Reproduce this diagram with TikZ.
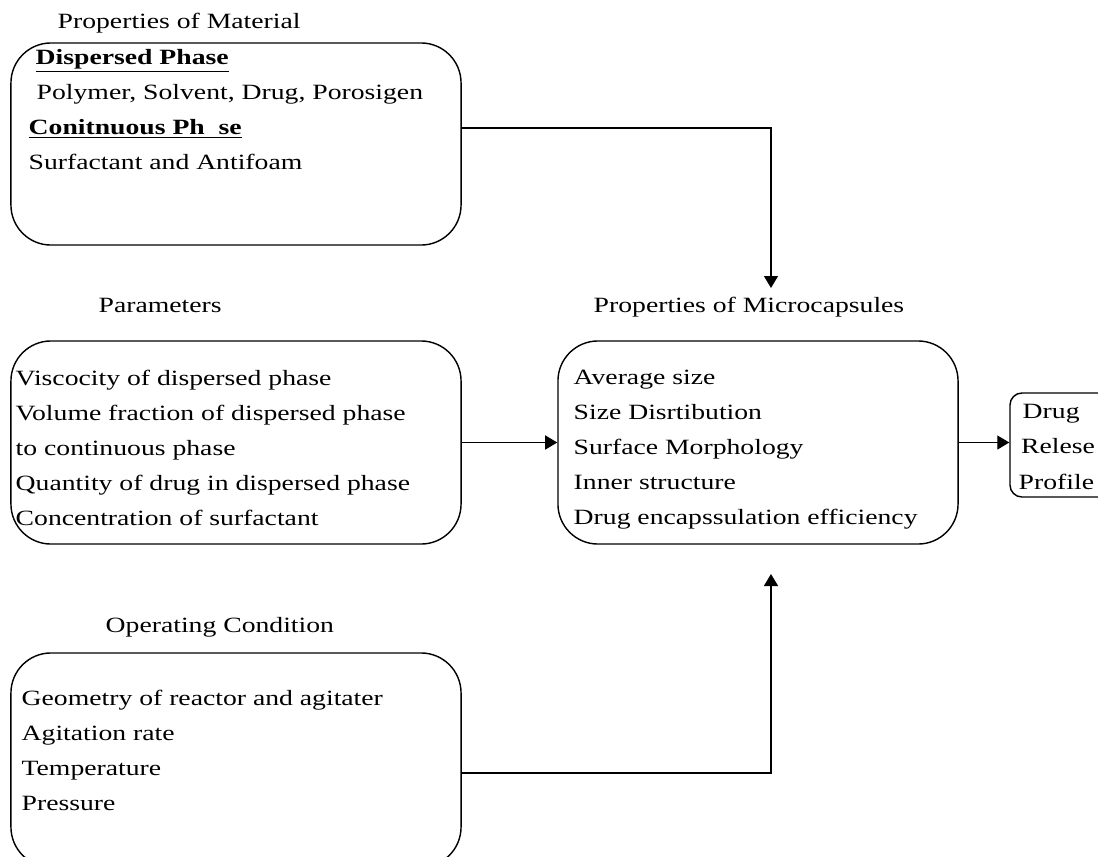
\documentclass[tikz,border=0pt]{standalone}
\usepackage{fontspec}
\setmainfont{Liberation Serif}[FakeStretch=1.27]
\usepackage{tikz}
\usetikzlibrary{arrows.meta}
\tikzset{capbox/.style={draw, rounded corners=1cm, line width=1pt},
  boxtext/.style={anchor=north west, align=left, inner sep=0pt},
  lbl/.style={anchor=base west, inner sep=0pt}}

\begin{document}
\begin{tikzpicture}[x=0.025cm, y=-0.025cm, line width=1pt,
  >={Triangle[width=3.5mm,length=3mm]},
  font=\fontsize{15.5}{24.9}\selectfont]
  \useasboundingbox (0,0) rectangle (1098,856);

  % Headings
  \node[lbl] (matlbl) at (57,28) {Properties of Material};
  \node[lbl] (parlbl) at (98,312) {Parameters};
  \node[lbl] (miclbl) at (593,312) {Properties of Microcapsules};
  \node[lbl] (oplbl) at (105,632) {Operating Condition};

  % Boxes
  \node[capbox, minimum width=11.25cm, minimum height=5.05cm] (mat) at (236,144) {};
  \node[capbox, minimum width=11.25cm, minimum height=5.075cm] (par) at (236,442.5) {};
  \node[capbox, minimum width=10cm, minimum height=5.075cm] (mic) at (758,442.5) {};
  \node[capbox, rounded corners=0.3cm, minimum width=2.75cm, minimum height=2.6cm] (drug) at (1065,445) {};
  \node[capbox, minimum width=11.25cm, minimum height=5.35cm] (op) at (236,760) {};

  % Box contents
  \node[boxtext] (mattxt) at (28,49)
    {\hspace*{0.175cm}\underline{\textbf{Dispersed Phase}}\\
     \hspace*{0.2cm}Polymer, Solvent, Drug, Porosigen\\
     \underline{\textbf{Conitnuous Ph\ \ se}}\\
     Surfactant and Antifoam};
  \node[boxtext] (partxt) at (15,369)
    {Viscocity of dispersed phase\\
     Volume fraction of dispersed phase\\
     to continuous phase\\
     Quantity of drug in dispersed phase\\
     Concentration of surfactant};
  \node[boxtext] (mictxt) at (573,369)
    {Average size\\
     Size Disrtibution\\
     Surface Morphology\\
     Inner structure\\
     Drug encapssulation efficiency};
  \node[boxtext] (drugtxt) at (1018,404)
    {\hspace*{0.1cm}Drug\\
     \hspace*{0.06cm}Relese\\
     Profile};
  \node[boxtext] (optxt) at (21,689)
    {Geometry of reactor and agitater\\
     Agitation rate\\
     Temperature\\
     Pressure};

  % Connectors
  \coordinate (topin) at (771,288);
  \coordinate (botin) at (771,574);
  \draw[->] ([yshift=0.4cm]mat.east) -| (topin);
  \draw[->] ([yshift=-0.325cm]op.east) -| (botin);
  \draw[->] (par.east) -- (mic.west);
  \draw[->] (mic.east) -- (mic.east -| drug.west);
\end{tikzpicture}
\end{document}
